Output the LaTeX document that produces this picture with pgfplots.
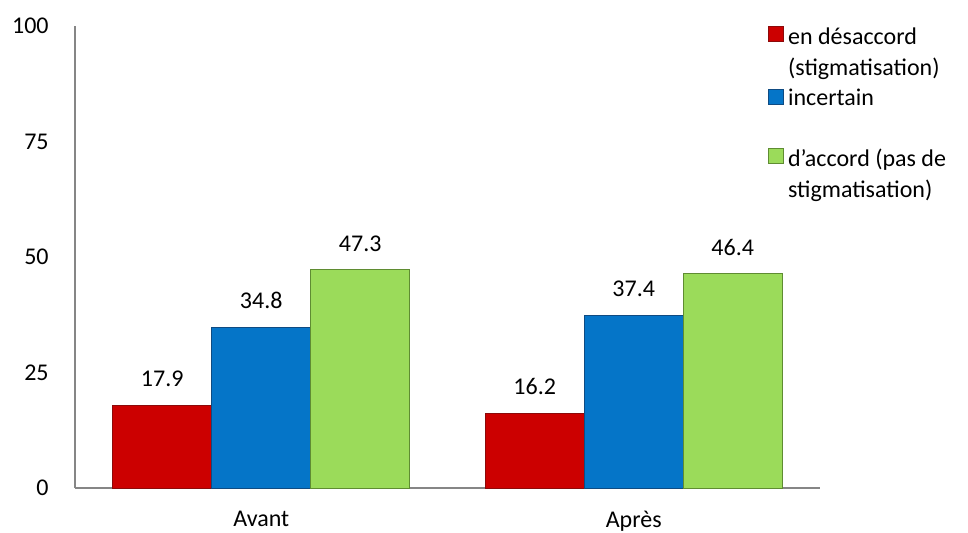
\documentclass[border=0pt]{standalone}
\usepackage{fontspec}
\setmainfont{Carlito}
\usepackage{pgfplots}
\pgfplotsset{compat=1.18}
\definecolor{cred}{RGB}{204,0,0}
\definecolor{credd}{RGB}{140,10,10}
\definecolor{cblue}{RGB}{5,117,200}
\definecolor{cblued}{RGB}{15,75,130}
\definecolor{cgreen}{RGB}{155,219,90}
\definecolor{cgreend}{RGB}{95,140,50}
\definecolor{axgray}{RGB}{134,134,134}
\pgfplotsset{
  sqlegend/.style={legend image code/.code={\path[draw=none,fill=none] (0pt,-13pt) rectangle (0.1pt,13pt); \draw[##1, line width=0.3pt] (0pt,4.85pt) rectangle (7.5pt,12.35pt);}},
  sqlegendb/.style={legend image code/.code={\path[draw=none,fill=none] (0pt,-12pt) rectangle (0.1pt,12pt); \draw[##1, line width=0.3pt] (0pt,3.85pt) rectangle (7.5pt,11.35pt);}}}
\begin{document}
\fontsize{12}{15.5}\selectfont
\begin{tikzpicture}
\useasboundingbox (0pt,0pt) rectangle (484pt,266pt);
\begin{axis}[
  at={(37.5pt,22pt)}, anchor=south west,
  scale only axis, width=372.5pt, height=231pt,
  xmin=-0.5, xmax=1.5, ymin=0, ymax=100,
  axis x line*=bottom, axis y line*=left,
  axis line style={-, draw=axgray, line width=0.8pt},
  xtick={0,1}, xticklabels={Avant,Après},
  ytick={0,25,50,75,100},
  major tick length=0pt,
  /pgf/number format/assume math mode=true,
  tick label style={font=\fontsize{12}{15.5}\selectfont},
  yticklabel style={xshift=-9pt},
  xticklabel style={yshift=-7.5pt},
  ybar=0pt, bar width=49.5pt,
  nodes near coords={\pgfmathprintnumber[fixed,fixed zerofill,precision=1]{\pgfplotspointmeta}},
  every node near coord/.append style={font=\fontsize{12}{15.5}\selectfont, yshift=4.9pt, text=black},
  legend cell align=left,
  legend style={draw=none, fill=none, at={(axis description cs:0.929,1.0174)}, anchor=north west,
    inner sep=0pt, column sep=0.5pt, row sep=-1.5pt,
    font=\fontsize{12}{15.5}\selectfont,
    cells={align=left, inner xsep=0pt, inner ysep=0pt}},
]
\addplot[fill=cred, draw=credd, line width=0.4pt, sqlegend]
  coordinates {(0,17.9) (1,16.2)};
\addlegendentry{\strut en désaccord\\\strut(stigmatisation)}
\addplot[fill=cblue, draw=cblued, line width=0.4pt, sqlegendb]
  coordinates {(0,34.8) (1,37.4)};
\addlegendentry{\strut incertain\\\rule[-2.65pt]{0pt}{10.85pt}}
\addplot[fill=cgreen, draw=cgreend, line width=0.4pt, sqlegend]
  coordinates {(0,47.3) (1,46.4)};
\addlegendentry{\strut d’accord (pas de\\\strut stigmatisation)}
\end{axis}
\end{tikzpicture}
\end{document}
